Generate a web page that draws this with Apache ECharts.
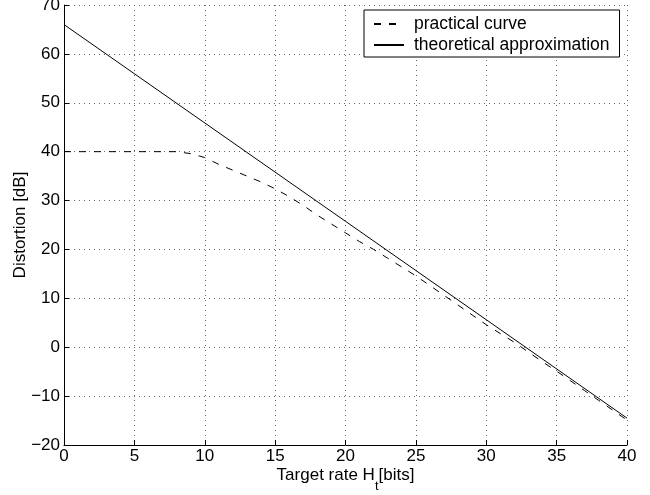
<!DOCTYPE html>
<html>
<head>
<meta charset="utf-8">
<title>Distortion vs target rate</title>
<script src="https://cdn.jsdelivr.net/npm/echarts@6/dist/echarts.min.js"></script>
<style>
  html, body { margin: 0; padding: 0; background: #fff; }
  #chart { width: 650px; height: 495px; }
</style>
</head>
<body>
<div id="chart"></div>
<script>
// Target rate in bits (x values of the practical curve)
const rates = [0, 1, 2, 3, 4, 5, 6, 7, 8, 9, 10, 11, 12, 13, 14, 15, 16, 17, 18, 19, 20,
               21, 22, 23, 24, 25, 26, 27, 28, 29, 30, 31, 32, 33, 34, 35, 36, 37, 38, 39, 40];
// Measured distortion in dB
const practical = [40, 40, 40, 40, 40, 40, 40, 40, 40, 39.6, 38.8, 37.4, 36.2, 35.0, 33.8, 32.4,
                   30.8, 29.0, 27.0, 25.2, 23.4, 21.6, 20.0, 18.2, 16.4, 14.6, 12.6, 10.6, 8.6,
                   6.6, 4.6, 2.8, 1.0, -1.0, -3.0, -4.9, -6.9, -8.9, -10.9, -12.9, -14.9];
// Straight-line theoretical approximation (end points)
const theoryRates = [0, 40];
const theory = [66, -14.5];

const xTicks = { min: 0, max: 40, step: 5 };
const yTicks = { min: -20, max: 70, step: 10 };

const FONT = 'Liberation Sans, Arial, Helvetica, sans-serif';
const minus = v => String(v).replace('-', '\u2212');

const chart = echarts.init(document.getElementById('chart'), null, { renderer: 'canvas' });

chart.setOption({
  animation: false,
  backgroundColor: '#fff',
  textStyle: { fontFamily: FONT, color: '#000' },
  grid: { left: 64, right: 23, top: 5, bottom: 50, containLabel: false, outerBoundsMode: 'none' },
  legend: {
    orient: 'vertical',
    left: 364,
    top: 10,
    padding: [5, 10, 3, 9],
    itemGap: 3,
    itemWidth: 30,
    itemHeight: 17,
    backgroundColor: '#fff',
    borderColor: '#000',
    borderWidth: 1,
    borderRadius: 0,
    itemStyle: { opacity: 0 },
    textStyle: { fontFamily: FONT, fontSize: 17.5, color: '#000', padding: [0, 0, 0, 5] },
    data: ['practical curve', 'theoretical approximation']
  },
  xAxis: {
    type: 'value',
    min: xTicks.min,
    max: xTicks.max,
    interval: xTicks.step,
    name: '{a|Target rate H}{sub|t}{a|[bits]}',
    nameLocation: 'middle',
    nameGap: 22,
    nameMoveOverlap: false,
    nameTextStyle: {
      rich: {
        a: { fontFamily: FONT, fontSize: 17, color: '#000', verticalAlign: 'top', lineHeight: 20 },
        sub: { fontFamily: FONT, fontSize: 13, color: '#000', verticalAlign: 'bottom', padding: [13, 0, 0, 0] }
      }
    },
    axisLine: { show: true, onZero: false, lineStyle: { color: '#000', width: 1 } },
    axisTick: { show: true, inside: true, length: 5, lineStyle: { color: '#000' } },
    axisLabel: { fontFamily: FONT, fontSize: 17, color: '#000', margin: 3, formatter: minus },
    splitLine: { show: true, lineStyle: { color: '#666', width: 1, type: [1, 4] } }
  },
  yAxis: {
    type: 'value',
    min: yTicks.min,
    max: yTicks.max,
    interval: yTicks.step,
    name: 'Distortion [dB]',
    nameLocation: 'middle',
    nameGap: 35,
    nameRotate: 90,
    nameMoveOverlap: false,
    nameTextStyle: { fontFamily: FONT, fontSize: 17, color: '#000' },
    axisLine: { show: true, onZero: false, lineStyle: { color: '#000', width: 1 } },
    axisTick: { show: true, inside: true, length: 5, lineStyle: { color: '#000' } },
    axisLabel: { fontFamily: FONT, fontSize: 17, color: '#000', margin: 4, formatter: minus },
    splitLine: { show: true, lineStyle: { color: '#666', width: 1, type: [1, 4] } }
  },
  series: [
    {
      name: 'practical curve',
      type: 'line',
      symbol: 'none',
      data: rates.map((r, i) => [r, practical[i]]),
      lineStyle: { color: '#000', width: 1, type: [7, 8] },
      itemStyle: { color: '#000' }
    },
    {
      name: 'theoretical approximation',
      type: 'line',
      symbol: 'none',
      data: theoryRates.map((r, i) => [r, theory[i]]),
      lineStyle: { color: '#000', width: 1, type: 'solid' },
      itemStyle: { color: '#000' }
    }
  ]
});
</script>
</body>
</html>
